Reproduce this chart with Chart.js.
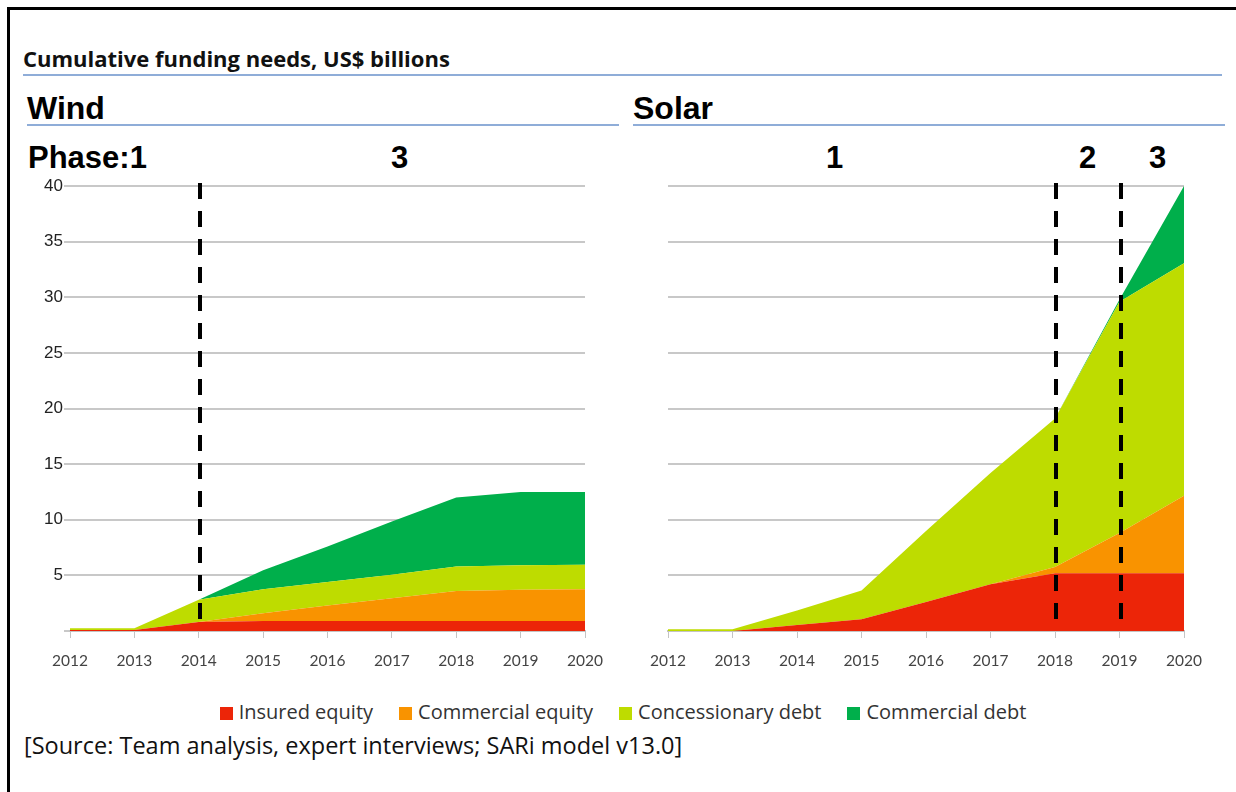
<!DOCTYPE html>
<html>
<head>
<meta charset="utf-8">
<script src="https://cdn.jsdelivr.net/npm/chart.js@4"></script>
<style>
  body { margin: 0; background: #fff; }
  #page { position: relative; width: 1236px; height: 792px; overflow: hidden; font-family: "Open Sans", Lato, sans-serif; }
  .frameTop { position: absolute; left: 7px; top: 7px; width: 1229px; height: 3px; background: #000; }
  .frameLeft { position: absolute; left: 7px; top: 7px; width: 3px; height: 785px; background: #000; }
  .rule { position: absolute; height: 2px; background: #8fadd8; }
  .txt { position: absolute; white-space: nowrap; color: #000; line-height: 1.3; }
  .head { font-family: "Liberation Sans", Arial, sans-serif; font-weight: bold; }
  canvas { position: absolute; }
  #legend { position: absolute; left: 0; top: 698px; width: 1246px; text-align: center; font-size: 20px; line-height: 27px; color: #333; }
  #legend span.item { margin: 0 13px; }
  #legend span.box { display: inline-block; width: 13px; height: 13px; margin-right: 6px; vertical-align: -1px; }
</style>
</head>
<body>
<div id="page">
  <div class="frameTop"></div>
  <div class="frameLeft"></div>

  <div class="txt" style="left:23px; top:44px; font-size:22px; font-weight:bold; color:#111;">Cumulative funding needs, US$ billions</div>
  <div class="rule" style="left:23px; top:74px; width:1199px;"></div>

  <div class="txt head" style="left:27px; top:88px; font-size:32px;">Wind</div>
  <div class="rule" style="left:27px; top:124px; width:592px;"></div>
  <div class="txt head" style="left:633px; top:88px; font-size:32px;">Solar</div>
  <div class="rule" style="left:633px; top:124px; width:592px;"></div>

  <div class="txt head" style="left:28px; top:138px; font-size:31px;">Phase:1</div>
  <div class="txt head" style="left:391px; top:138px; font-size:31px;">3</div>
  <div class="txt head" style="left:826px; top:138px; font-size:31px;">1</div>
  <div class="txt head" style="left:1079px; top:138px; font-size:31px;">2</div>
  <div class="txt head" style="left:1149px; top:138px; font-size:31px;">3</div>

  <canvas id="windChart" style="left:0; top:170px;" width="620" height="510"></canvas>
  <canvas id="solarChart" style="left:620px; top:170px;" width="616" height="510"></canvas>

  <div id="legend"></div>
  <div class="txt" style="left:24px; top:730px; font-size:23.5px; color:#111;">[Source: Team analysis, expert interviews; SARi model v13.0]</div>
</div>

<script>
// years on the x axis
const anos = ['2012', '2013', '2014', '2015', '2016', '2017', '2018', '2019', '2020'];

// series names and colours (bottom to top of the stack)
const series = ['Insured equity', 'Commercial equity', 'Concessionary debt', 'Commercial debt'];
const cores = ['#ec2508', '#f99300', '#bedc00', '#00af4b'];

// Wind, US$ billions per layer
const windInsuredEquity = [0.1, 0.1, 0.8, 0.9, 0.9, 0.9, 0.9, 0.9, 0.9];
const windCommercialEquity = [0, 0, 0, 0.7, 1.4, 2.05, 2.7, 2.8, 2.85];
const windConcessionaryDebt = [0.15, 0.15, 2.0, 2.15, 2.1, 2.1, 2.2, 2.2, 2.2];
const windCommercialDebt = [0, 0, 0, 1.7, 3.2, 4.8, 6.2, 6.6, 6.55];

// Solar, US$ billions per layer
const solarInsuredEquity = [0, 0, 0.55, 1.05, 2.6, 4.2, 5.2, 5.2, 5.2];
const solarCommercialEquity = [0, 0, 0, 0, 0, 0, 0.55, 3.6, 6.95];
const solarConcessionaryDebt = [0.15, 0.15, 1.3, 2.6, 6.4, 10.0, 13.35, 20.8, 20.9];
const solarCommercialDebt = [0, 0, 0, 0, 0, 0, 0, 0.2, 6.95];

// y axis ticks
const yTicks = [0, 5, 10, 15, 20, 25, 30, 35, 40];

// phase boundaries (dashed lines)
const windFases = ['2014'];
const solarFases = ['2018', '2019'];

// dashed vertical lines at the phase changes
const linhasFase = {
    id: 'linhasFase',
    afterDatasetsDraw(chart, args, opts) {
        const ctx = chart.ctx;
        const x = chart.scales.x;
        const area = chart.chartArea;
        ctx.save();
        ctx.strokeStyle = '#000';
        ctx.lineWidth = 4;
        ctx.setLineDash([16, 12]);
        opts.anos.forEach(function (ano) {
            const px = Math.round(x.getPixelForValue(anos.indexOf(ano))) + 1;
            ctx.beginPath();
            ctx.moveTo(px, area.top - 3);
            ctx.lineTo(px, area.bottom);
            ctx.stroke();
        });
        ctx.restore();
    }
};

function montarDatasets(camadas) {
    return camadas.map(function (dados, i) {
        return {
            label: series[i],
            data: dados,
            backgroundColor: cores[i],
            borderColor: cores[i],
            borderWidth: 0,
            pointRadius: 0,
            tension: 0,
            fill: i === 0 ? 'origin' : '-1'
        };
    });
}

function plotarGrafico(id, camadas, fases, mostrarEixoY, larguraEixoY, direita) {
    return new Chart(document.getElementById(id), {
        type: 'line',
        data: { labels: anos, datasets: montarDatasets(camadas) },
        plugins: [linhasFase],
        options: {
            responsive: false,
            animation: false,
            layout: { padding: { top: 16, right: direita, left: 0, bottom: 0 } },
            plugins: {
                legend: { display: false },
                tooltip: { enabled: false },
                linhasFase: { anos: fases }
            },
            scales: {
                x: {
                    afterFit: function (s) { s.height = 49; },
                    border: { display: true, color: '#c4c4c4', width: 2 },
                    grid: { drawOnChartArea: false, drawTicks: true, tickLength: 7, color: '#c4c4c4', lineWidth: 1 },
                    ticks: {
                        padding: 14,
                        maxRotation: 0,
                        color: '#444',
                        font: { family: 'Lato', size: 15.5 }
                    }
                },
                y: {
                    stacked: true,
                    min: 0,
                    max: 40,
                    afterFit: function (s) { s.width = larguraEixoY; },
                    afterBuildTicks: function (s) { s.ticks = yTicks.map(function (v) { return { value: v }; }); },
                    border: { display: false },
                    grid: { color: '#c8c8c8', lineWidth: 2, drawTicks: mostrarEixoY, tickLength: 6 },
                    ticks: {
                        display: mostrarEixoY,
                        padding: 1,
                        color: '#222',
                        font: { family: 'Liberation Sans', size: 17 },
                        callback: function (v) { return v === 0 ? '' : v; }
                    }
                }
            }
        }
    });
}

plotarGrafico('windChart',
    [windInsuredEquity, windCommercialEquity, windConcessionaryDebt, windCommercialDebt],
    windFases, true, 70, 35);

plotarGrafico('solarChart',
    [solarInsuredEquity, solarCommercialEquity, solarConcessionaryDebt, solarCommercialDebt],
    solarFases, false, 48, 52);

// legend built from the same series/cores arrays
const legenda = document.getElementById('legend');
series.forEach(function (nome, i) {
    const item = document.createElement('span');
    item.className = 'item';
    item.innerHTML = '<span class="box" style="background:' + cores[i] + '"></span>' + nome;
    legenda.appendChild(item);
});
</script>
</body>
</html>
